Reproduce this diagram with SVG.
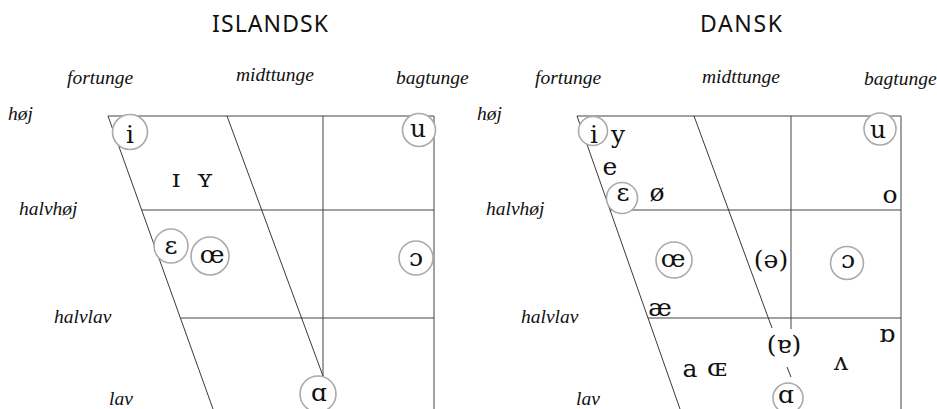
<svg xmlns="http://www.w3.org/2000/svg" width="937" height="409" viewBox="0 0 937 409">
<style>
.title{font-family:"Noto Sans","Open Sans",sans-serif;font-size:23px;fill:#111;text-anchor:middle}
.lab{font-family:"Liberation Serif","Times New Roman",serif;font-style:italic;font-size:19.5px;fill:#111}
.v{font-family:"DejaVu Serif","Liberation Serif",serif;font-size:25px;fill:#111;text-anchor:middle}
.c{fill:#fff;stroke:#aaa;stroke-width:1.6}
.ln{stroke:#444;stroke-width:1;fill:none}
.sl{stroke:#222;stroke-width:0.9;fill:none}
</style>
<rect width="937" height="409" fill="#fff"/>
<g id="titles">
<text class="title" x="270" y="32" textLength="116" lengthAdjust="spacing">ISLANDSK</text>
<text class="title" x="741" y="32" textLength="82" lengthAdjust="spacing">DANSK</text>
</g>
<g id="labels">
<text class="lab" x="67" y="84">fortunge</text>
<text class="lab" x="236" y="81">midttunge</text>
<text class="lab" x="396" y="84">bagtunge</text>
<text class="lab" x="8" y="120">høj</text>
<text class="lab" x="19" y="215">halvhøj</text>
<text class="lab" x="54" y="323">halvlav</text>
<text class="lab" x="109" y="405">lav</text>
<text class="lab" x="535" y="84">fortunge</text>
<text class="lab" x="702" y="83">midttunge</text>
<text class="lab" x="864" y="85">bagtunge</text>
<text class="lab" x="477" y="120">høj</text>
<text class="lab" x="486" y="215">halvhøj</text>
<text class="lab" x="521" y="323">halvlav</text>
<text class="lab" x="576" y="405">lav</text>
</g>
<g id="connectors">
<line class="ln" x1="108" y1="116" x2="434" y2="116"/>
<line class="ln" x1="434" y1="116" x2="434" y2="409"/>
<line class="ln" x1="323" y1="116" x2="323" y2="376"/>
<line class="ln" x1="142" y1="210" x2="434" y2="210"/>
<line class="ln" x1="181" y1="318" x2="434" y2="318"/>
<line class="sl" x1="108" y1="116" x2="213" y2="409"/>
<line class="sl" x1="227" y1="116" x2="323" y2="376"/>
<line class="ln" x1="577" y1="116" x2="901" y2="116"/>
<line class="ln" x1="901" y1="116" x2="901" y2="409"/>
<line class="ln" x1="791" y1="116" x2="791" y2="329"/>
<line class="ln" x1="610" y1="210" x2="901" y2="210"/>
<line class="ln" x1="648" y1="318" x2="901" y2="318"/>
<line class="sl" x1="577" y1="116" x2="680" y2="409"/>
<line class="sl" x1="694" y1="116" x2="772" y2="328"/>
<line class="sl" x1="787" y1="367" x2="791" y2="377"/>
</g>
<g id="isl-i"><circle class="c" cx="130" cy="132" r="17.5"/><text class="v" x="130" y="143">i</text></g>
<g id="isl-u"><circle class="c" cx="419" cy="130" r="16.5"/><text class="v" x="418" y="137">u</text></g>
<g id="isl-IY"><text class="v" x="176" y="187">ɪ</text><text class="v" x="205" y="187">ʏ</text></g>
<g id="isl-eps"><circle class="c" cx="171" cy="246" r="17"/><text class="v" x="171" y="254">ε</text></g>
<g id="isl-oe"><circle class="c" cx="210" cy="256" r="19"/><text class="v" x="212" y="263">œ</text></g>
<g id="isl-open-o"><circle class="c" cx="416" cy="258" r="17"/><text class="v" x="416" y="266">ɔ</text></g>
<g id="isl-alpha"><circle class="c" cx="318" cy="394" r="18"/><text class="v" x="319" y="401">ɑ</text></g>
<g id="dan-i"><circle class="c" cx="593" cy="131" r="14.5"/><text class="v" x="594" y="143">i</text></g>
<g id="dan-y"><text class="v" x="618" y="143">y</text></g>
<g id="dan-e"><text class="v" x="610" y="175">e</text></g>
<g id="dan-eps"><circle class="c" cx="622" cy="198" r="15.5"/><text class="v" x="623" y="201">ε</text></g>
<g id="dan-oslash"><text class="v" x="657" y="201">ø</text></g>
<g id="dan-u"><circle class="c" cx="880" cy="129" r="16"/><text class="v" x="878" y="138">u</text></g>
<g id="dan-o"><text class="v" x="890" y="203">o</text></g>
<g id="dan-oe"><circle class="c" cx="674" cy="260" r="18"/><text class="v" x="673" y="267">œ</text></g>
<g id="dan-schwa"><text class="v" x="771" y="268">(ə)</text></g>
<g id="dan-open-o"><circle class="c" cx="847" cy="263" r="16.5"/><text class="v" x="848" y="268">ɔ</text></g>
<g id="dan-ae"><text class="v" x="660" y="316">æ</text></g>
<g id="dan-turned-a"><text class="v" x="784" y="353">(ɐ)</text></g>
<g id="dan-turned-alpha"><text class="v" x="887" y="342">ɒ</text></g>
<g id="dan-wedge"><text class="v" x="841" y="370">ʌ</text></g>
<g id="dan-a"><text class="v" x="690" y="377">a</text></g>
<g id="dan-OE"><text class="v" x="717" y="376">ɶ</text></g>
<g id="dan-alpha"><circle class="c" cx="788" cy="398" r="15"/><text class="v" x="786" y="403">ɑ</text></g>
</svg>
